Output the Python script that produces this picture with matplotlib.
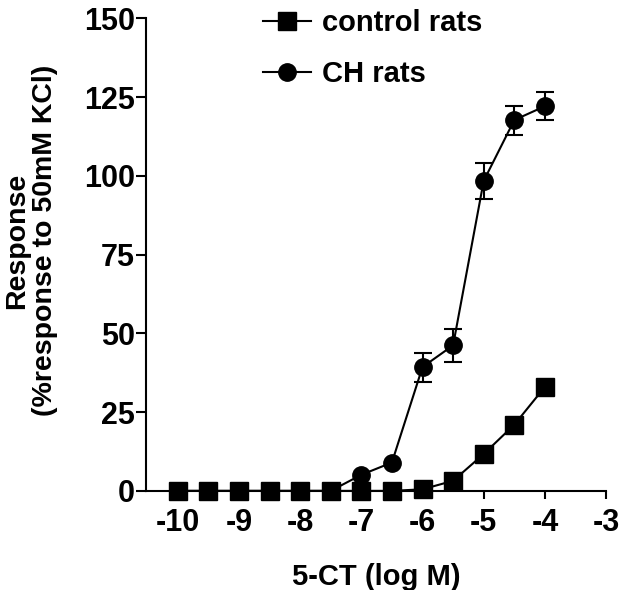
import matplotlib
matplotlib.use("Agg")
import matplotlib.pyplot as plt
import numpy as np

plt.rcParams['font.family'] = ['Liberation Sans', 'DejaVu Sans']
plt.rcParams['font.weight'] = 'bold'

log_conc = [-10, -9.5, -9, -8.5, -8, -7.5, -7, -6.5, -6, -5.5, -5, -4.5, -4]
control = [0, 0, 0, 0, 0, 0, 0, 0, 0.5, 3.2, 11.7, 21.0, 33.0]
ch = [0, 0, 0, 0, 0, 0, 5.1, 9.0, 39.3, 46.2, 98.4, 117.7, 122.1]
ch_err = [0, 0, 0, 0, 0, 0, 0, 0, 4.6, 5.2, 5.6, 4.6, 4.5]
x_ticks = [-10, -9, -8, -7, -6, -5, -4, -3]
y_ticks = [0, 25, 50, 75, 100, 125, 150]

fig = plt.figure(figsize=(6.4, 5.9), dpi=100)
ax = fig.add_axes([0.228, 0.168, 0.719, 0.801])

ch_arr = np.array(ch)
err_arr = np.array(ch_err)
mask = err_arr > 0
ax.errorbar(np.array(log_conc)[mask], ch_arr[mask], yerr=err_arr[mask], fmt='none',
            ecolor='black', elinewidth=1.5, capsize=6.5, capthick=1.5, zorder=2)
ax.plot(log_conc, ch, color='black', lw=1.5, marker='o', ms=12.5, mfc='black',
        mec='black', label='CH rats', zorder=3, clip_on=False)
ax.plot(log_conc, control, color='black', lw=1.5, marker='s', ms=12.5, mfc='black',
        mec='black', label='control rats', zorder=4, clip_on=False)

ax.set_xlim(-10.52, -3)
ax.set_ylim(0, 150)
ax.set_xticks(x_ticks)
ax.set_yticks(y_ticks)
ax.set_xticklabels([str(t) for t in x_ticks])
ax.spines['top'].set_visible(False)
ax.spines['right'].set_visible(False)
ax.spines['left'].set_linewidth(1.5)
ax.spines['bottom'].set_linewidth(1.5)
ax.spines['bottom'].set_bounds(-10.52, -3)
ax.tick_params(axis='both', direction='out', width=1.5, labelsize=22)
ax.tick_params(axis='y', length=7, pad=1)
ax.tick_params(axis='x', length=6, pad=6)
for lab in ax.get_xticklabels() + ax.get_yticklabels():
    lab.set_fontweight('bold')

ax.set_xlabel('5-CT (log M)', fontsize=21, fontweight='bold', labelpad=18)
ax.set_ylabel('Response\n(%response to 50mM KCl)', fontsize=20.5, fontweight='bold',
              linespacing=1.1)
ax.yaxis.set_label_coords(-0.19, 0.53)

handles, labels = ax.get_legend_handles_labels()
leg = ax.legend([handles[1], handles[0]], [labels[1], labels[0]], loc='upper left',
                bbox_to_anchor=(0.222, 1.05), frameon=False,
                handlelength=1.65, handletextpad=0.4, labelspacing=0.78, borderpad=0,
                prop={'weight': 'bold', 'size': 21})

fig.savefig('out.png', dpi=100)
